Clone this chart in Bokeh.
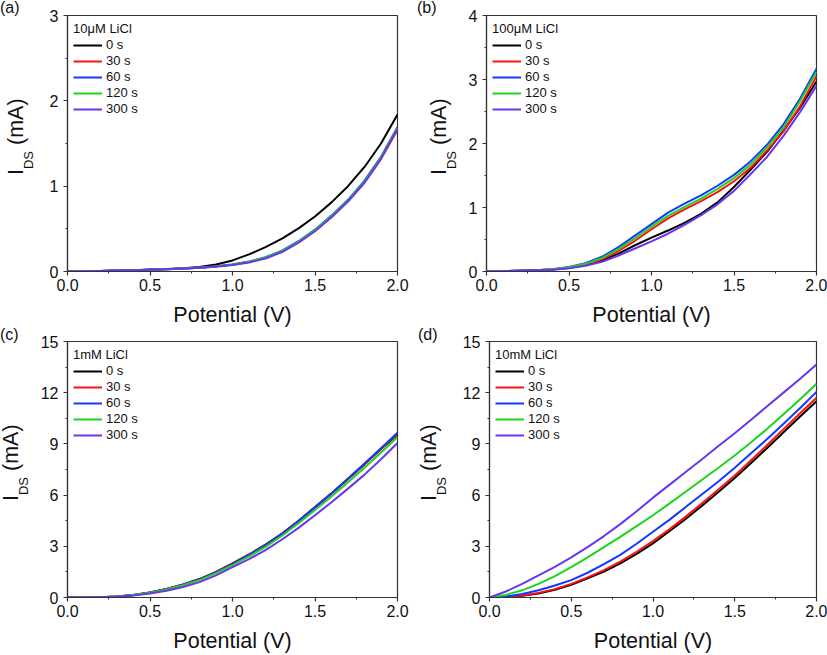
from bokeh.embed import file_html
from bokeh.layouts import column, row
from bokeh.models import Div, PrintfTickFormatter, Range1d, SingleIntervalTicker
from bokeh.plotting import figure
from bokeh.resources import INLINE

# ---- data -------------------------------------------------------------
potential = [0.0, 0.1, 0.2, 0.3, 0.4, 0.5, 0.6, 0.7, 0.8, 0.9, 1.0,
             1.1, 1.2, 1.3, 1.4, 1.5, 1.6, 1.7, 1.8, 1.9, 2.0]

times = ["0 s", "30 s", "60 s", "120 s", "300 s"]
colors = ["#000000", "#ff1010", "#1438ff", "#1ed21e", "#6a35f0"]

# (a) 10 uM LiCl, I_DS in mA
a_0s = [0, 0.003, 0.007, 0.011, 0.016, 0.022, 0.029, 0.038, 0.052, 0.082, 0.13,
        0.20, 0.285, 0.385, 0.505, 0.645, 0.81, 1.00, 1.225, 1.50, 1.84]
a_30s = [0, 0.003, 0.007, 0.011, 0.015, 0.021, 0.027, 0.034, 0.045, 0.060, 0.080,
         0.112, 0.16, 0.235, 0.345, 0.48, 0.64, 0.825, 1.045, 1.32, 1.66]
a_60s = [0, 0.003, 0.007, 0.011, 0.015, 0.021, 0.027, 0.034, 0.045, 0.061, 0.082,
         0.116, 0.167, 0.245, 0.355, 0.49, 0.655, 0.84, 1.065, 1.345, 1.69]
a_120s = [0, 0.003, 0.007, 0.011, 0.015, 0.021, 0.027, 0.034, 0.045, 0.060, 0.081,
          0.114, 0.164, 0.24, 0.35, 0.485, 0.648, 0.832, 1.055, 1.335, 1.68]
a_300s = [0, 0.003, 0.007, 0.011, 0.015, 0.020, 0.026, 0.033, 0.043, 0.057, 0.076,
          0.106, 0.152, 0.228, 0.338, 0.472, 0.635, 0.82, 1.04, 1.32, 1.67]

# (b) 100 uM LiCl
b_0s = [0, 0.005, 0.011, 0.019, 0.030, 0.055, 0.10, 0.17, 0.28, 0.41, 0.53,
        0.64, 0.76, 0.90, 1.08, 1.32, 1.59, 1.87, 2.20, 2.56, 2.97]
b_30s = [0, 0.005, 0.012, 0.020, 0.033, 0.062, 0.11, 0.19, 0.32, 0.48, 0.66,
         0.83, 0.97, 1.10, 1.24, 1.41, 1.62, 1.89, 2.19, 2.58, 3.05]
b_60s = [0, 0.005, 0.012, 0.020, 0.035, 0.070, 0.13, 0.23, 0.38, 0.56, 0.74,
         0.92, 1.06, 1.19, 1.34, 1.51, 1.72, 1.98, 2.30, 2.70, 3.17]
b_120s = [0, 0.005, 0.012, 0.020, 0.034, 0.066, 0.12, 0.21, 0.35, 0.52, 0.70,
          0.87, 1.01, 1.14, 1.29, 1.46, 1.67, 1.94, 2.25, 2.66, 3.12]
b_300s = [0, 0.005, 0.011, 0.018, 0.029, 0.050, 0.09, 0.15, 0.25, 0.36, 0.47,
          0.59, 0.73, 0.88, 1.05, 1.26, 1.52, 1.79, 2.12, 2.49, 2.90]

# (c) 1 mM LiCl
c_0s = [0, 0.005, 0.02, 0.06, 0.15, 0.30, 0.50, 0.76, 1.08, 1.50, 2.00,
        2.52, 3.10, 3.75, 4.50, 5.30, 6.10, 6.95, 7.80, 8.70, 9.55]
c_30s = [0, 0.005, 0.02, 0.06, 0.15, 0.30, 0.50, 0.75, 1.07, 1.49, 1.98,
         2.50, 3.08, 3.73, 4.48, 5.28, 6.09, 6.95, 7.82, 8.72, 9.60]
c_60s = [0, 0.005, 0.02, 0.06, 0.15, 0.29, 0.49, 0.74, 1.06, 1.47, 1.96,
         2.48, 3.06, 3.72, 4.47, 5.28, 6.10, 6.97, 7.85, 8.75, 9.65]
c_120s = [0, 0.004, 0.018, 0.055, 0.14, 0.28, 0.47, 0.72, 1.02, 1.43, 1.90,
          2.41, 2.97, 3.62, 4.35, 5.13, 5.92, 6.75, 7.60, 8.50, 9.40]
c_300s = [0, 0.003, 0.015, 0.045, 0.11, 0.23, 0.40, 0.62, 0.90, 1.30, 1.78,
          2.25, 2.78, 3.40, 4.08, 4.82, 5.58, 6.38, 7.20, 8.10, 9.05]

# (d) 10 mM LiCl
d_0s = [0, 0.02, 0.10, 0.24, 0.45, 0.75, 1.12, 1.52, 2.00, 2.56, 3.17,
        3.88, 4.60, 5.38, 6.18, 7.00, 7.88, 8.78, 9.70, 10.60, 11.50]
d_30s = [0, 0.03, 0.12, 0.27, 0.49, 0.80, 1.18, 1.60, 2.10, 2.68, 3.30,
         4.00, 4.74, 5.52, 6.33, 7.15, 8.04, 8.95, 9.88, 10.80, 11.70]
d_60s = [0, 0.06, 0.20, 0.42, 0.70, 1.02, 1.45, 1.95, 2.50, 3.15, 3.85,
         4.55, 5.30, 6.05, 6.80, 7.60, 8.45, 9.30, 10.20, 11.10, 12.05]
d_120s = [0, 0.15, 0.42, 0.80, 1.25, 1.78, 2.35, 2.95, 3.55, 4.18, 4.82,
          5.50, 6.20, 6.90, 7.60, 8.32, 9.10, 9.90, 10.75, 11.62, 12.52]
d_300s = [0, 0.35, 0.80, 1.30, 1.80, 2.35, 2.95, 3.60, 4.30, 5.05, 5.85,
          6.60, 7.35, 8.10, 8.88, 9.62, 10.42, 11.22, 12.02, 12.82, 13.65]

FONT = "Liberation Sans"
AXIS_COLOR = "#333333"
TEXT_COLOR = "#111111"


def make_side(width, height, tag, tag_x, tag_y, base_i, label_bottom):
    """Text column left of a panel: the panel tag and the rotated y-axis
    title I_DS (mA) with a real subscript (HTML, rotated with CSS).
    base_i is the x of the title's baseline, label_bottom the y where the
    title text starts (it reads bottom to top)."""
    left = base_i - 19.5          # top of the 21.5 px line box
    html = (
        f'<div style="position:relative;width:{width}px;height:{height}px;'
        f"font-family:'{FONT}',Arial,sans-serif;color:{TEXT_COLOR};\">"
        f'<div style="position:absolute;left:{tag_x}px;top:{tag_y}px;'
        f'font-size:16px;line-height:16px;white-space:nowrap;">{tag}</div>'
        f'<div style="position:absolute;left:{left}px;top:{label_bottom}px;'
        f'transform-origin:0 0;transform:rotate(-90deg);font-size:21.5px;'
        f'line-height:24px;white-space:nowrap;">I<span style="font-size:13px;'
        f'line-height:13px;vertical-align:-10px;">DS</span> (mA)</div>'
        f'</div>'
    )
    return Div(text=html, width=width, height=height, margin=(0, 0, 0, 0),
               styles={"padding": "0px", "overflow": "visible"})


def make_panel(conc, series, ymax, ystep, width, height,
               left, right, top, bottom):
    p = figure(width=width, height=height, output_backend="svg",
               toolbar_location=None, x_range=Range1d(0, 2),
               y_range=Range1d(0, ymax), min_border_left=left,
               min_border_right=right, min_border_top=top,
               min_border_bottom=bottom)
    p.background_fill_color = "white"
    p.border_fill_color = "white"
    p.outline_line_color = AXIS_COLOR
    p.outline_line_width = 1.2
    p.xgrid.visible = False
    p.ygrid.visible = False

    for ys, label, color in zip(series, times, colors):
        p.line(potential, ys, line_color=color, line_width=2,
               line_join="round", legend_label=label)

    p.xaxis.ticker = SingleIntervalTicker(interval=0.5, num_minor_ticks=2)
    p.yaxis.ticker = SingleIntervalTicker(interval=ystep, num_minor_ticks=2)
    p.xaxis.formatter = PrintfTickFormatter(format="%.1f")
    p.yaxis.formatter = PrintfTickFormatter(format="%d")

    for ax in (p.xaxis[0], p.yaxis[0]):
        ax.axis_line_color = AXIS_COLOR
        ax.axis_line_width = 1.2
        ax.major_tick_line_color = AXIS_COLOR
        ax.minor_tick_line_color = AXIS_COLOR
        ax.major_tick_line_width = 1.2
        ax.minor_tick_line_width = 1
        ax.major_tick_in = 0
        ax.major_tick_out = 4
        ax.minor_tick_in = 0
        ax.minor_tick_out = 2
        ax.major_label_text_font = FONT
        ax.major_label_text_font_size = "16px"
        ax.major_label_text_color = TEXT_COLOR
    p.xaxis.major_label_standoff = 3
    p.yaxis.major_label_standoff = 5

    p.xaxis.axis_label = "Potential (V)"
    p.xaxis.axis_label_text_font = FONT
    p.xaxis.axis_label_text_font_size = "21.5px"
    p.xaxis.axis_label_text_font_style = "normal"
    p.xaxis.axis_label_text_color = TEXT_COLOR
    p.xaxis.axis_label_standoff = 9

    lg = p.legend[0]
    lg.title = conc
    lg.title_text_font = FONT
    lg.title_text_font_size = "13px"
    lg.title_text_font_style = "normal"
    lg.title_text_color = TEXT_COLOR
    lg.title_standoff = 1
    lg.location = "top_left"
    lg.margin = 6
    lg.padding = 0
    lg.spacing = 1
    lg.border_line_color = None
    lg.background_fill_alpha = 0
    lg.label_text_font = FONT
    lg.label_text_font_size = "13px"
    lg.label_text_color = TEXT_COLOR
    lg.label_height = 14
    lg.glyph_height = 14
    lg.glyph_width = 29
    lg.label_standoff = 4
    return p


# rows: 329 px (top) + 326 px (bottom); frames 330 x 256 px
# left column: text 36 px + panel 377 px; right column: text 46 + 368
sa = make_side(36, 329, "(a)", 0, 0, 23.5, 175)
pa = make_panel("10\u03bcM LiCl", [a_0s, a_30s, a_60s, a_120s, a_300s],
                3, 1, 377, 329, 31, 16, 15, 58)
sb = make_side(46, 329, "(b)", 4, 0, 33.0, 175)
pb = make_panel("100\u03bcM LiCl", [b_0s, b_30s, b_60s, b_120s, b_300s],
                4, 1, 368, 329, 27, 11, 15, 58)
sc = make_side(36, 326, "(c)", 0, -2, 18.5, 172)
pc = make_panel("1mM LiCl", [c_0s, c_30s, c_60s, c_120s, c_300s],
                15, 3, 377, 326, 31, 16, 12, 58)
sd = make_side(46, 326, "(d)", 5, -2, 23.5, 172)
pd = make_panel("10mM LiCl", [d_0s, d_30s, d_60s, d_120s, d_300s],
                15, 3, 368, 326, 27, 11, 12, 58)

layout = column(row(sa, pa, sb, pb), row(sc, pc, sd, pd))
open("out.html", "w").write(file_html(layout, INLINE))
